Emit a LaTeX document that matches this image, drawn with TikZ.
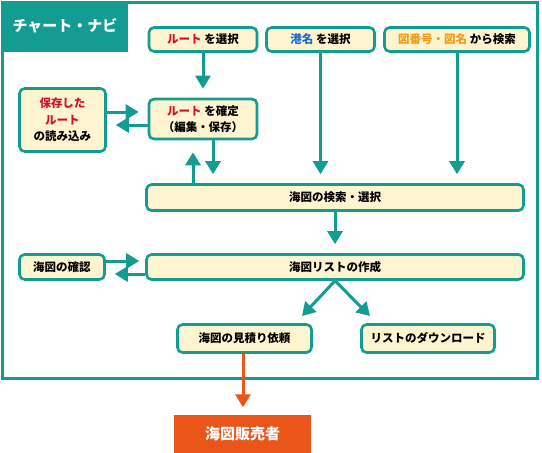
\documentclass[tikz,border=0pt]{standalone}
\usepackage{fontspec}
\setmainfont{Noto Sans CJK JP}
\usetikzlibrary{arrows.meta}
\definecolor{teal0}{HTML}{139C92}
\definecolor{cream}{HTML}{FFF4D0}
\definecolor{orng}{HTML}{EA561A}
\definecolor{rtxt}{HTML}{D0102A}
\definecolor{btxt}{HTML}{1A6AD0}
\definecolor{otxt}{HTML}{F39A1A}
\tikzset{
  box/.style={draw=teal0, line width=2.6pt, fill=cream, rounded corners=5pt,
    font=\bfseries\fontsize{11.5}{16.5}\selectfont, inner sep=0pt, align=center},
  arr/.style={draw=teal0, line width=3pt, -{Triangle[width=15pt,length=13pt]}, shorten >=9pt},
  oarr/.style={draw=orng, line width=3pt, -{Triangle[width=15pt,length=13pt]}, shorten >=7pt},
}
\begin{document}
\begin{tikzpicture}[x=1pt,y=-1pt]
\useasboundingbox (0,0) rectangle (542,453);
% frame and title tab
\fill[teal0] (1,1) rectangle (128,52);
\draw[teal0, line width=3pt] (2.5,2.5) rectangle (537.5,378);
\node[text=white, font=\bfseries\fontsize{15}{18}\selectfont] (title) at (65,26) {チャート・ナビ};
% boxes
\node[box, minimum width=108pt, minimum height=24pt] (sel) at (203,39.5) {\textcolor{rtxt}{ルート}\ を選択};
\node[box, minimum width=108pt, minimum height=24pt] (port) at (320.5,39.5) {\textcolor{btxt}{港名}\ を選択};
\node[box, minimum width=145pt, minimum height=24pt] (num) at (457,39.5) {\textcolor{otxt}{図番号・図名}\ から検索};
\node[box, minimum width=86pt, minimum height=63pt] (saved) at (62.5,120) {\textcolor{rtxt}{保存した}\\\textcolor{rtxt}{ルート}\\の読み込み};
\node[box, minimum width=108pt, minimum height=40pt] (conf) at (203,119) {\textcolor{rtxt}{ルート}\ を確定\\（編集・保存）};
\node[box, minimum width=377pt, minimum height=26pt] (search) at (335,197.5) {海図の検索・選択};
\node[box, minimum width=85pt, minimum height=25pt] (check) at (62,267) {海図の確認};
\node[box, minimum width=377pt, minimum height=25pt] (list) at (335,267) {海図リストの作成};
\node[box, minimum width=134pt, minimum height=28pt] (quote) at (244.5,338.5) {海図の見積り依頼};
\node[box, minimum width=133pt, minimum height=28pt] (dl) at (428,338.5) {リストのダウンロード};
\node[fill=orng, minimum width=137pt, minimum height=39pt, inner sep=0pt, text=white,
  font=\bfseries\fontsize{15}{18}\selectfont] (vendor) at (242.5,434) {海図販売者};
% helper coordinates
\coordinate (ya) at (0,112);
\coordinate (yb) at (0,125);
\coordinate (xa) at (193,0);
\coordinate (xb) at (213,0);
\coordinate (yc) at (0,261);
\coordinate (yd) at (0,274);
\coordinate (ql) at (302,316);
\coordinate (dr) at (370,316);
\coordinate (xq) at (243,0);
% connectors
\draw[arr] (sel.south) -- (conf.north);
\draw[arr] (saved.east |- ya) -- (conf.west |- ya);
\draw[arr] (conf.west |- yb) -- (saved.east |- yb);
\draw[arr] (conf.south -| xb) -- (search.north -| xb);
\draw[arr, shorten >=12pt] (search.north -| xa) -- (conf.south -| xa);
\draw[arr] (port.south) -- (port.south |- search.north);
\draw[arr] (num.south) -- (num.south |- search.north);
\draw[arr] (search.south) -- (list.north);
\draw[arr, shorten >=6pt] (check.east |- yc) -- (list.west |- yc);
\draw[arr] (list.west |- yd) -- (check.east |- yd);
\draw[arr, shorten >=0pt] (list.south) -- (ql);
\draw[arr, shorten >=0pt] (list.south) -- (dr);
\draw[oarr] (quote.south -| xq) -- (vendor.north -| xq);
\end{tikzpicture}
\end{document}
